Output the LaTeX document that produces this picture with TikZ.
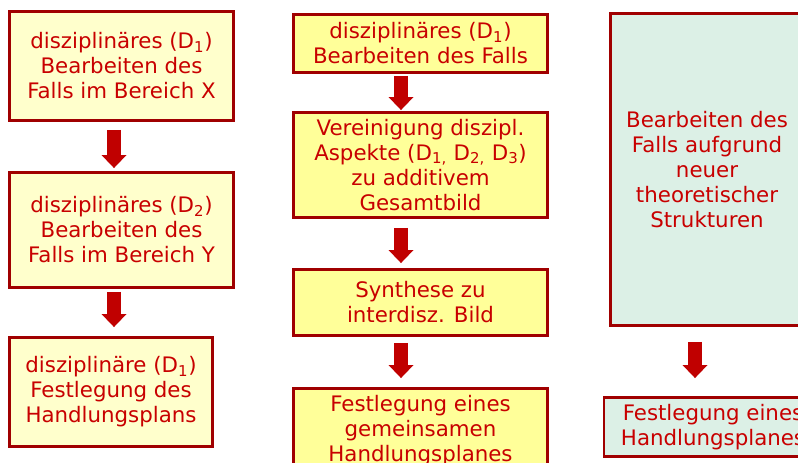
\documentclass[tikz,border=0pt]{standalone}
\usepackage{fontspec}
\setmainfont{DejaVu Sans}
\usetikzlibrary{positioning,arrows.meta,calc}
\definecolor{boxred}{RGB}{160,0,0}
\definecolor{txtred}{RGB}{200,0,0}
\definecolor{arrred}{RGB}{192,0,0}
\definecolor{paleyel}{RGB}{255,255,204}
\definecolor{brightyel}{RGB}{255,255,153}
\definecolor{mint}{RGB}{220,240,230}

\begin{document}
\begin{tikzpicture}[x=0.75pt, y=-0.75pt,
  every node/.style={font=\fontsize{16}{18.75}\selectfont, text=txtred},
  box/.style ={draw=boxred, line width=2.2pt, align=center, inner sep=2pt},
  ybox/.style={box, fill=paleyel},
  gbox/.style={box, fill=brightyel},
  tbox/.style={box, fill=mint},
  arr/.style ={draw=arrred, line width=10.5pt,
               -{Triangle[width=18.75pt, length=9.75pt, line width=0pt]}}]

\useasboundingbox (0,0) rectangle (798,462);

%% left column: disciplinary work, one after the other
\node[ybox, minimum width=168pt, minimum height=81.75pt] (bereichX) at (121.5,66)
  {disziplinäres (D\textsubscript{1})\\Bearbeiten des\\Falls im Bereich X};
\node[ybox, minimum width=168pt, minimum height=86.25pt] (bereichY) at (121.5,230)
  {disziplinäres (D\textsubscript{2})\\Bearbeiten des\\Falls im Bereich Y};
\node[ybox, minimum width=152.25pt, minimum height=81.75pt] (planD1) at (111,392)
  {disziplinäre (D\textsubscript{1})\\Festlegung des\\Handlungsplans};

%% middle column: additive picture, then synthesis
\node[gbox, minimum width=190.5pt, minimum height=43.5pt] (fallD1) at (420.5,43.5)
  {disziplinäres (D\textsubscript{1})\\Bearbeiten des Falls};
\node[gbox, minimum width=190.5pt, minimum height=78.75pt] (vereinigung) at (420.5,165)
  {Vereinigung diszipl.\\Aspekte (D\textsubscript{1,} D\textsubscript{2,} D\textsubscript{3})\\zu additivem\\Gesamtbild};
\node[gbox, minimum width=190.5pt, minimum height=49.5pt] (synthese) at (420.5,302.5)
  {Synthese zu\\interdisz. Bild};
\node[gbox, minimum width=190.5pt, minimum height=63.75pt] (planGem) at (420.5,431)
  {Festlegung eines\\gemeinsamen\\Handlungsplanes};

%% right column: new theoretical structures
\node[tbox, minimum width=144.75pt, minimum height=234pt] (theorie) at (707,169.5)
  {Bearbeiten des\\Falls aufgrund\\neuer\\theoretischer\\Strukturen};
\node[tbox, minimum width=163.5pt, minimum height=44.25pt] (planTh) at (713,427)
  {Festlegung eines\\Handlungsplanes};

%% block arrows sit a little left of the box centres
\coordinate (colA) at (114,0);
\coordinate (colB) at (401,0);
\coordinate (colC) at (695,0);

\draw[arr, shorten <=6pt, shorten >=2.25pt]    (bereichX.south -| colA) -- (bereichY.north -| colA);
\draw[arr, shorten <=2.25pt, shorten >=6.75pt] (bereichY.south -| colA) -- (planD1.north -| colA);
\draw[arr, shorten <=1.5pt, shorten >=0.75pt]  (fallD1.south -| colB) -- (vereinigung.north -| colB);
\draw[arr, shorten <=6.75pt, shorten >=3.75pt] (vereinigung.south -| colB) -- (synthese.north -| colB);
\draw[arr, shorten <=4.5pt, shorten >=6.75pt]  (synthese.south -| colB) -- (planGem.north -| colB);
\draw[arr, shorten <=11.25pt, shorten >=13.5pt] (theorie.south -| colC) -- (planTh.north -| colC);
\end{tikzpicture}
\end{document}
